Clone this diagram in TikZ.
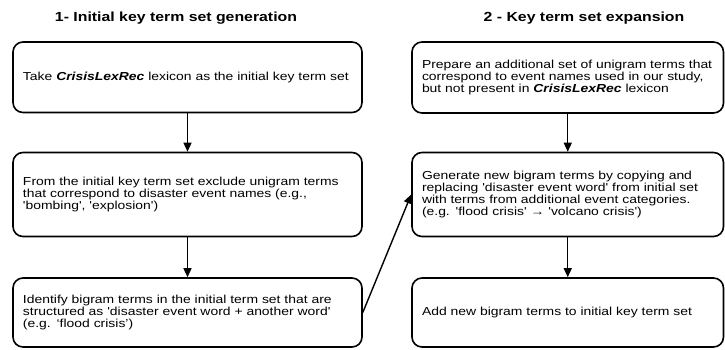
\documentclass[tikz,border=0pt]{standalone}
\usepackage{fontspec}
\newfontfamily\af[FakeStretch=1.2]{Liberation Sans}
\newfontfamily\tf[FakeStretch=1.2]{Liberation Sans Bold}
\usetikzlibrary{arrows.meta}
\begin{document}
\begin{tikzpicture}[x=1pt,y=-1pt,
  stepbox/.style={draw=black, line width=1.6pt, rounded corners=10pt, align=left,
    inner xsep=10pt, inner ysep=0pt, font=\af\fontsize{11.6}{12.1}\selectfont, anchor=center},
  lbox/.style={stepbox, text width=329pt},
  rbox/.style={stepbox, text width=291.5pt},
  ttl/.style={font=\tf\fontsize{13.2}{15}\selectfont, anchor=center},
  arr/.style={line width=1.4pt, -{Triangle[width=8pt,length=9pt]}}]
\useasboundingbox (0,0) rectangle (725,349);
\node[ttl] (t1) at (176,18) {1- Initial key term set generation};
\node[ttl] (t2) at (584,18) {2 - Key term set expansion};
\node[lbox, minimum height=70.5pt] (a1) at (187.5,77.25) {Take \textbf{\textit{CrisisLexRec}} lexicon as the initial key term set};
\node[lbox, minimum height=84pt] (a2) at (187.5,194.5) {From the initial key term set exclude unigram terms\\that correspond to disaster event names (e.g.,\\'bombing', 'explosion')};
\node[lbox, minimum height=69pt] (a3) at (187.5,312.5) {Identify bigram terms in the initial term set that are\\structured as 'disaster event word + another word'\\(e.g. ‘flood crisis’)};
\node[rbox, minimum height=71pt] (b1) at (567.75,77.5) {Prepare an additional set of unigram terms that\\correspond to event names used in our study,\\but not present in \textbf{\textit{CrisisLexRec}} lexicon};
\node[rbox, minimum height=84pt] (b2) at (567.75,194.5) {Generate new bigram terms by copying and\\replacing 'disaster event word' from initial set\\with terms from additional event categories.\\(e.g. 'flood crisis' → 'volcano crisis')};
\node[rbox, minimum height=69pt] (b3) at (567.75,312.5) {Add new bigram terms to initial key term set};
\draw[arr] (a1) -- (a2);
\draw[arr] (a2) -- (a3);
\draw[arr] (b1) -- (b2);
\draw[arr] (b2) -- (b3);
\draw[arr] (a3.east) -- (b2.west);
\end{tikzpicture}
\end{document}
